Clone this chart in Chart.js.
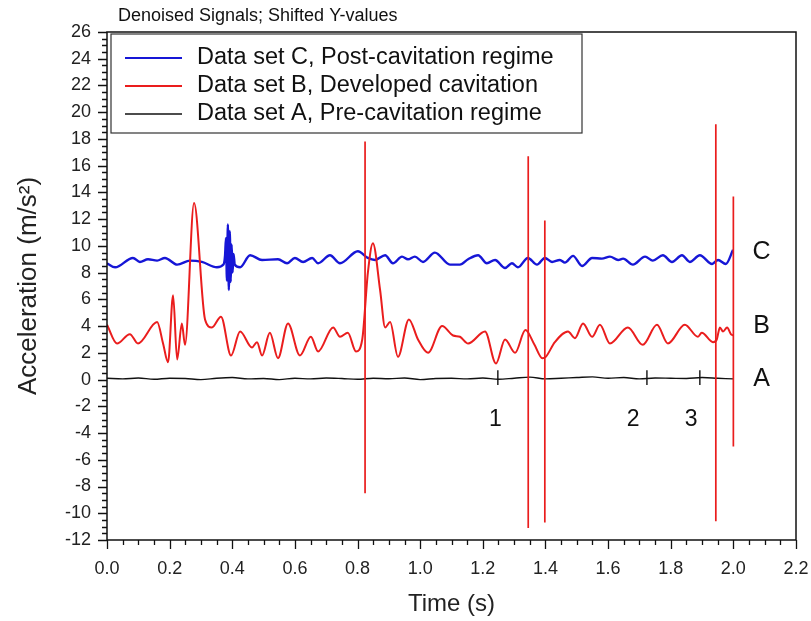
<!DOCTYPE html>
<html>
<head>
<meta charset="utf-8">
<script src="https://cdn.jsdelivr.net/npm/chart.js@4/dist/chart.umd.min.js"></script>
<style>
  body { margin: 0; background: #fff; }
</style>
</head>
<body>
<canvas id="myChart" width="811" height="621"></canvas>
<script>
// Data set C (post-cavitation), shifted up
const tC = [0.000,0.026,0.083,0.105,0.131,0.160,0.185,0.224,0.265,0.303,0.351,0.372,0.377,0.380,0.383,0.386,0.389,0.392,0.395,0.398,0.401,0.404,0.408,0.425,0.457,0.495,0.546,0.575,0.600,0.626,0.655,0.674,0.712,0.744,0.801,0.833,0.856,0.888,0.913,0.942,0.961,0.983,1.009,1.047,1.095,1.127,1.153,1.185,1.213,1.239,1.271,1.293,1.312,1.344,1.373,1.398,1.421,1.446,1.462,1.488,1.517,1.549,1.580,1.606,1.632,1.648,1.679,1.718,1.743,1.775,1.804,1.836,1.861,1.893,1.932,1.951,1.976,1.999];
const vC = [8.7,8.4,9.1,8.8,9.0,8.9,9.1,8.6,8.9,8.8,8.4,8.6,9.3,10.6,7.4,11.6,6.7,11.1,7.3,10.1,8.0,9.4,8.6,8.4,9.3,8.95,9.0,8.7,9.1,8.8,9.1,8.7,9.3,8.7,9.6,9.1,8.95,9.3,8.7,9.2,9.0,9.2,8.8,9.5,8.6,8.6,9.0,9.3,8.7,8.95,8.35,8.7,8.4,9.1,8.6,9.1,8.8,8.95,8.75,9.25,8.5,9.1,9.05,9.2,8.95,9.05,8.6,9.2,8.9,9.3,8.8,9.3,8.8,9.3,8.65,8.95,8.65,9.7];

// Data set B (developed cavitation), smooth part
const tB = [0.000,0.032,0.073,0.099,0.160,0.179,0.195,0.211,0.224,0.239,0.249,0.278,0.313,0.335,0.364,0.396,0.425,0.463,0.479,0.495,0.520,0.546,0.578,0.616,0.651,0.674,0.722,0.744,0.769,0.795,0.815,0.833,0.849,0.872,0.888,0.904,0.929,0.964,0.993,1.025,1.070,1.105,1.127,1.153,1.207,1.242,1.271,1.303,1.336,1.365,1.390,1.401,1.430,1.472,1.494,1.520,1.549,1.574,1.606,1.663,1.711,1.756,1.791,1.845,1.887,1.899,1.935,1.947,1.957,1.967,1.980,1.992,2.000];
const vB = [4.1,2.7,3.4,2.7,4.3,2.7,1.3,6.3,1.5,4.2,2.6,13.2,4.5,3.9,4.7,1.8,3.6,2.4,2.8,1.8,3.5,1.6,4.2,1.8,3.2,2.1,3.9,3.2,3.5,2.1,3.0,8.0,10.2,6.7,3.9,4.3,1.7,4.5,3.0,2.0,4.0,3.3,3.2,2.7,3.6,1.2,3.0,2.0,3.7,2.6,1.6,1.7,2.8,3.6,3.1,4.2,3.2,4.1,2.7,3.9,2.6,4.1,2.7,4.1,3.2,3.5,2.8,3.0,3.9,3.6,3.9,3.4,3.3];
// cavitation spikes on data set B
const spikeT = [0.824, 1.345, 1.398, 1.944, 2.000];
const spikeTop = [17.8, 16.7, 11.9, 19.1, 13.7];
const spikeBottom = [-8.5, -11.1, -10.7, -10.6, -5.0];

// Data set A (pre-cavitation)
const tA = [0.00,0.05,0.10,0.15,0.20,0.25,0.30,0.35,0.40,0.45,0.50,0.55,0.60,0.65,0.70,0.75,0.80,0.85,0.90,0.95,1.00,1.05,1.10,1.15,1.20,1.25,1.30,1.35,1.40,1.45,1.50,1.55,1.60,1.65,1.70,1.75,1.80,1.85,1.90,1.95,2.00];
const vA = [0.10,0.05,0.12,0.02,0.10,0.08,0.00,0.10,0.15,0.05,0.08,0.00,0.10,0.05,0.12,0.08,0.02,0.10,0.06,0.12,0.00,0.08,0.10,0.05,0.12,0.02,0.10,0.18,0.05,0.10,0.15,0.20,0.10,0.15,0.05,0.12,0.10,0.08,0.15,0.10,0.05];

// event markers on trace A
const markT = [1.248, 1.724, 1.893];
const markNames = ['1', '2', '3'];
const markLabelT = [1.24, 1.68, 1.865];
const markLabelY = -3.0;

// trace tags on the right
const tagNames = ['C', 'B', 'A'];
const tagY = [9.5, 4.0, 0.0];
const tagT = 2.09;

const seriesLabels = ['Data set C, Post-cavitation regime', 'Data set B, Developed cavitation', 'Data set A, Pre-cavitation regime'];
const seriesColors = ['#1616d6', '#ea1d1d', '#111111'];

const FONT = "'Liberation Sans', Arial, sans-serif";
Chart.defaults.font.family = FONT;

const pts = (ts, vs) => ts.map((t, i) => ({x: t, y: vs[i]}));

const datasets = [
    {label: seriesLabels[0], data: pts(tC, vC), borderColor: seriesColors[0], borderWidth: 2.4, order: 1, cubicInterpolationMode: 'monotone'},
    {label: seriesLabels[1], data: pts(tB, vB), borderColor: seriesColors[1], borderWidth: 2, order: 0, cubicInterpolationMode: 'monotone'},
    {label: seriesLabels[2], data: pts(tA, vA), borderColor: seriesColors[2], borderWidth: 1.4, order: 2, cubicInterpolationMode: 'monotone'}
];
spikeT.forEach(function (s, i) {
    datasets.push({label: '', data: [{x: s, y: spikeTop[i]}, {x: s, y: spikeBottom[i]}], borderColor: seriesColors[1], borderWidth: 1.7, order: 0});
});
markT.forEach(function (m) {
    datasets.push({label: '', data: [{x: m, y: -0.4}, {x: m, y: 0.7}], borderColor: '#111', borderWidth: 1.4, order: 3});
});
datasets.forEach(function (d) {
    d.showLine = true;
    d.pointRadius = 0;
    d.fill = false;
});

const decorations = {
    id: 'decorations',
    afterDraw(chart) {
        const ctx = chart.ctx;
        const area = chart.chartArea;
        const xs = chart.scales.x, ys = chart.scales.y;
        ctx.save();

        // frame
        ctx.strokeStyle = '#111';
        ctx.lineWidth = 1.5;
        ctx.strokeRect(area.left, area.top, area.right - area.left, area.bottom - area.top);

        // ticks (major + minor)
        ctx.lineWidth = 1.3;
        ctx.beginPath();
        for (let i = 0; i <= 44; i++) {
            const px = Math.round(xs.getPixelForValue(i * 0.05)) + 0.5;
            const len = i % 4 === 0 ? 9 : 5;
            ctx.moveTo(px, area.bottom);
            ctx.lineTo(px, area.bottom + len);
        }
        for (let i = 0; i <= 76; i++) {
            const py = Math.round(ys.getPixelForValue(-12 + i * 0.5)) + 0.5;
            const len = i % 4 === 0 ? 9 : 5;
            ctx.moveTo(area.left - len, py);
            ctx.lineTo(area.left, py);
        }
        ctx.stroke();

        // title
        ctx.fillStyle = '#111';
        ctx.font = '18px ' + FONT;
        ctx.textAlign = 'left';
        ctx.textBaseline = 'middle';
        ctx.fillText('Denoised Signals; Shifted Y-values', 118, 16);

        // legend box
        const lx = 111, ly = 34, lw = 471, lh = 99;
        ctx.fillStyle = '#fff';
        ctx.fillRect(lx, ly, lw, lh);
        ctx.strokeStyle = '#333';
        ctx.lineWidth = 1.2;
        ctx.strokeRect(lx, ly, lw, lh);
        ctx.font = '23.5px ' + FONT;
        for (let i = 0; i < 3; i++) {
            const y = ly + 24 + i * 28;
            ctx.strokeStyle = seriesColors[i];
            ctx.lineWidth = i === 2 ? 1.4 : 2;
            ctx.beginPath();
            ctx.moveTo(125, y);
            ctx.lineTo(182, y);
            ctx.stroke();
            ctx.fillStyle = '#111';
            ctx.fillText(seriesLabels[i], 197, y);
        }

        // tags
        ctx.textAlign = 'center';
        ctx.font = '25px ' + FONT;
        tagNames.forEach(function (n, i) {
            ctx.fillText(n, xs.getPixelForValue(tagT), ys.getPixelForValue(tagY[i]));
        });
        ctx.font = '23px ' + FONT;
        markNames.forEach(function (n, i) {
            ctx.fillText(n, xs.getPixelForValue(markLabelT[i]), ys.getPixelForValue(markLabelY));
        });
        ctx.restore();
    }
};

const myChart = new Chart(document.getElementById('myChart'), {
    type: 'scatter',
    data: {datasets: datasets},
    options: {
        responsive: false,
        animation: false,
        layout: {padding: {top: 32, right: 0, left: 0, bottom: 0}},
        plugins: {legend: {display: false}, tooltip: {enabled: false}},
        scales: {
            x: {
                type: 'linear', min: 0, max: 2.2,
                grid: {display: false, drawTicks: false},
                border: {display: false},
                ticks: {stepSize: 0.2, padding: 18, color: '#222', font: {size: 18},
                    callback: v => v.toFixed(1)},
                title: {display: true, text: 'Time (s)', color: '#222', font: {size: 24}, padding: {top: 0, bottom: 2}},
                afterFit: s => { s.height = 81; s.paddingRight = 15; s.paddingLeft = 0; }
            },
            y: {
                type: 'linear', min: -12, max: 26,
                grid: {display: false, drawTicks: false},
                border: {display: false},
                ticks: {stepSize: 2, padding: 16, color: '#222', font: {size: 18}},
                title: {display: true, text: 'Acceleration (m/s²)', color: '#222', font: {size: 26}, padding: {top: 13, bottom: 0}},
                afterFit: s => { s.width = 107; s.paddingTop = 0; s.paddingBottom = 0; }
            }
        }
    },
    plugins: [decorations]
});
</script>
</body>
</html>
